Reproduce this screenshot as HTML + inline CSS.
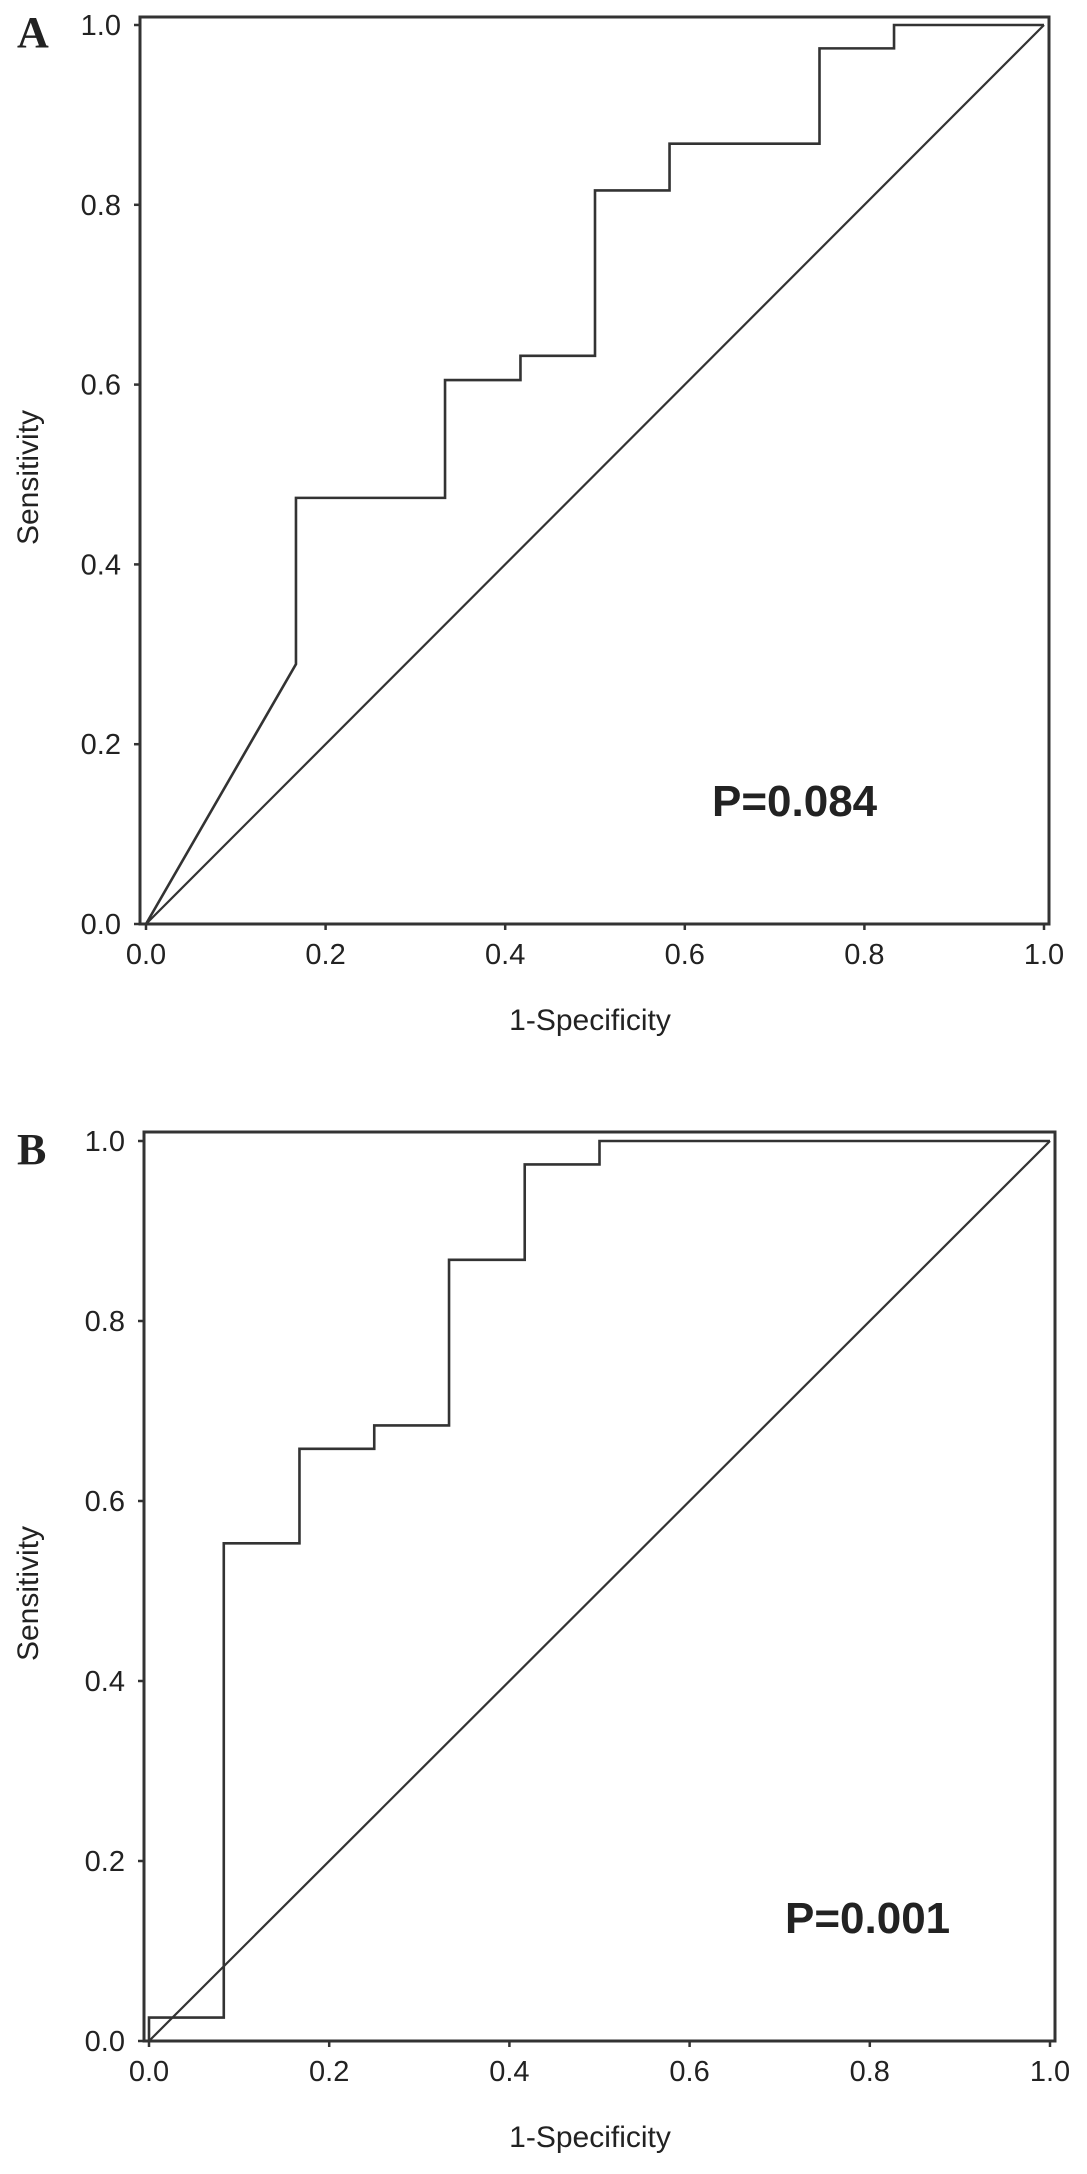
<!DOCTYPE html>
<html><head><meta charset="utf-8"><style>
body{margin:0;background:#fff}
svg text{font-family:"Liberation Sans",sans-serif;fill:#222}
</style></head><body>
<svg id="fig" width="1087" height="2169" viewBox="0 0 1087 2169" xmlns="http://www.w3.org/2000/svg"></svg>
<script>
const ticks=[0,0.2,0.4,0.6,0.8,1.0];
const tickLabels=["0.0","0.2","0.4","0.6","0.8","1.0"];
const rocAx=[0,0.167,0.167,0.333,0.333,0.417,0.417,0.5,0.5,0.583,0.583,0.75,0.75,0.833,0.833,1.0];
const rocAy=[0,0.289,0.474,0.474,0.605,0.605,0.632,0.632,0.816,0.816,0.868,0.868,0.974,0.974,1.0,1.0];
const rocBx=[0,0,0.083,0.083,0.167,0.167,0.25,0.25,0.333,0.333,0.417,0.417,0.5,0.5,1.0];
const rocBy=[0,0.026,0.026,0.553,0.553,0.658,0.658,0.684,0.684,0.868,0.868,0.974,0.974,1.0,1.0];
const pTexts=["P=0.084","P=0.001"];
const panels=[
 {letter:"A",x0:146,x1:1044,y0:924,y1:25,fl:140,ft:17,fr:1049,fb:924,xs:rocAx,ys:rocAy,px:712,py:816,lx:17,ly:47},
 {letter:"B",x0:149,x1:1050,y0:2041,y1:1141,fl:144,ft:1132,fr:1055,fb:2041,xs:rocBx,ys:rocBy,px:785,py:1933,lx:17,ly:1164}
];
const NS="http://www.w3.org/2000/svg";
const svg=document.getElementById('fig');
function mk(tag,attrs,parent,txt){const e=document.createElementNS(NS,tag);for(const k in attrs)e.setAttribute(k,attrs[k]);if(txt!==undefined)e.textContent=txt;parent.appendChild(e);return e;}
panels.forEach((p,i)=>{
 const sx=v=>p.x0+v*(p.x1-p.x0), sy=v=>p.y0+v*(p.y1-p.y0);
 const g=mk('g',{},svg);
 
 
 const fr=mk('rect',{x:p.fl,y:p.ft,width:p.fr-p.fl,height:p.fb-p.ft,fill:'none',stroke:'#333','stroke-width':3},g);
 
 
 const lt=mk('text',{x:p.lx,y:p.ly,'font-size':44,'font-weight':'bold',style:'font-family:"Liberation Serif",serif'},g,p.letter);
 
 
 ticks.forEach((t,j)=>{
  const xt=mk('line',{x1:sx(t),x2:sx(t),y1:p.fb,y2:p.fb+6,stroke:'#333','stroke-width':2.5},g);
  
  
  const xl=mk('text',{x:sx(t),y:p.y0+40,'font-size':29,'text-anchor':'middle'},g,tickLabels[j]);
  
  
  const yt=mk('line',{x1:p.fl-6,x2:p.fl,y1:sy(t),y2:sy(t),stroke:'#333','stroke-width':2.5},g);
  
  
  const yl=mk('text',{x:p.fl-19,y:sy(t)+10,'font-size':29,'text-anchor':'end'},g,tickLabels[j]);
  
  
 });
 const xtl=mk('text',{x:590,y:p.y0+106,'font-size':30,'text-anchor':'middle'},g,'1-Specificity');
 
 
 const cy=(p.ft+p.fb)/2+7;
 const ytl=mk('text',{x:38,y:cy,'font-size':30,'text-anchor':'middle',transform:`rotate(-90 38 ${cy})`},g,'Sensitivity');
 
 
 const diag=mk('line',{x1:sx(0),y1:sy(0),x2:sx(1),y2:sy(1),stroke:'#333','stroke-width':2.2},g);
 
 
 const pts=p.xs.map((v,k)=>sx(v)+','+sy(p.ys[k])).join(' ');
 const roc=mk('polyline',{points:pts,fill:'none',stroke:'#333','stroke-width':2.6},g);
 
 
 const pt=mk('text',{x:p.px,y:p.py,'font-size':44,'font-weight':'bold'},g,pTexts[i]);
 
 
});
</script>
</body></html>
